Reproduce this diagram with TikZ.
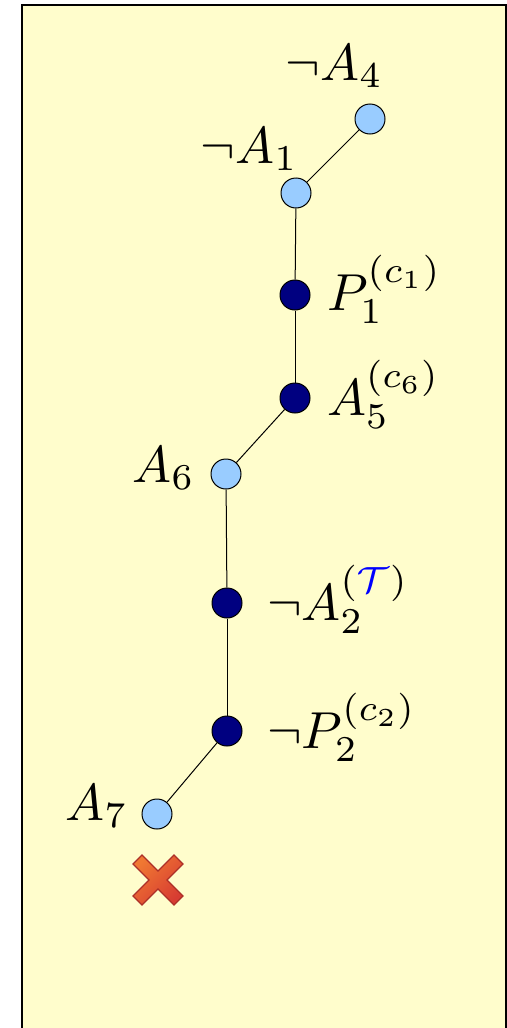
\documentclass[tikz,border=0pt]{standalone}
\usepackage{amsmath,amssymb}
\usepackage{xcolor}
\usepackage{tikz}
\usetikzlibrary{positioning,calc}
\definecolor{cpanel}{RGB}{255,253,204}
\definecolor{clit}{RGB}{153,204,255}
\definecolor{cpure}{RGB}{0,0,128}
\definecolor{cxa}{RGB}{240,120,50}
\definecolor{cxb}{RGB}{215,60,50}

\begin{document}
\begin{tikzpicture}[
  x=0.5pt, y=-0.5pt,
  litnode/.style={circle, draw=black, line width=0.5pt, fill=clit, minimum size=15pt, inner sep=0pt},
  purenode/.style={litnode, fill=cpure},
  lbl/.style={inner sep=0pt, font=\normalsize, scale=2.6, transform shape},
  edge/.style={line width=0.5pt},
]
\useasboundingbox (0,0) rectangle (507,1028);
\draw[fill=cpanel, line width=1pt] (22,5) rectangle (506,1045);
% nodes of the branch
\node[litnode] (nA4) at (370,119) {};
\node[litnode] (nA1) at (296,193) {};
\node[purenode] (P1) at (295,295) {};
\node[purenode] (A5) at (295,398) {};
\node[litnode] (A6) at (226,474) {};
\node[purenode] (nA2) at (227,603) {};
\node[purenode] (nP2) at (227,731) {};
\node[litnode] (A7) at (157,814) {};
% labels
\node[lbl, anchor=base east] (lnA4) at (384,80) {$\neg A_4$};
\node[lbl, anchor=base east] (lnA1) at (299,163) {$\neg A_1$};
\node[lbl, anchor=base west] (lP1) at (326,310) {$P_1^{(c_1)}$};
\node[lbl, anchor=base west] (lA5) at (326,415) {$A_5^{(c_6)}$};
\node[lbl, anchor=base east] (lA6) at (196,482) {$A_6$};
\node[lbl, anchor=base west] (lnA2) at (266,620) {$\neg A_2^{(\textcolor{blue}{\mathcal{T}})}$};
\node[lbl, anchor=base west] (lnP2) at (266,748) {$\neg P_2^{(c_2)}$};
\node[lbl, anchor=base east] (lA7) at (129,820) {$A_7$};
% edges
\draw[edge] (nA4) -- (nA1); \draw[edge] (nA1) -- (P1); \draw[edge] (P1) -- (A5);
\draw[edge] (A5) -- (A6); \draw[edge] (A6) -- (nA2); \draw[edge] (nA2) -- (nP2);
\draw[edge] (nP2) -- (A7);
% closed branch
\coordinate (xm) at (158,880);
\draw[draw=cxb!80!black, line width=0.6pt, left color=cxa, right color=cxb, shading angle=45]
  (xm) ++(0,-9) -- ++(16,-16) -- ++(9,9) -- ++(-16,16) -- ++(16,16) -- ++(-9,9)
  -- ++(-16,-16) -- ++(-16,16) -- ++(-9,-9) -- ++(16,-16) -- ++(-16,-16) -- ++(9,-9) -- cycle;
\end{tikzpicture}
\end{document}
